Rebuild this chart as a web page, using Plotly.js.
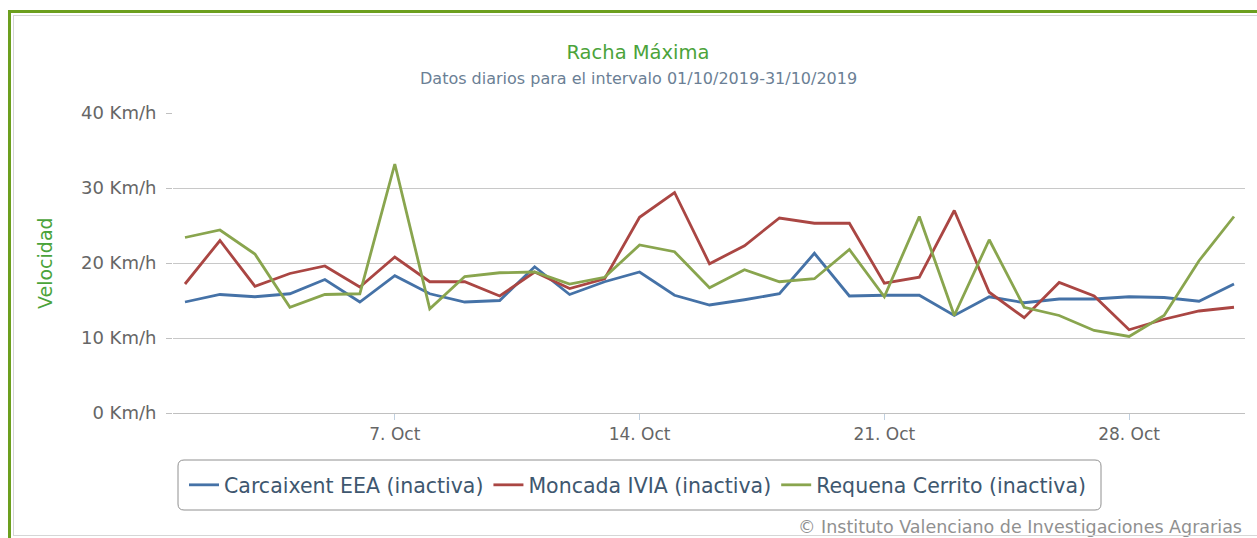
<!DOCTYPE html>
<html>
<head>
<meta charset="utf-8">
<script src="https://cdn.plot.ly/plotly-3.0.1.min.js"></script>
<style>
  html, body { margin:0; padding:0; background:#ffffff; overflow:hidden; }
  #wrap { position:relative; width:1257px; height:538px; }
  #chart { position:absolute; left:0; top:0; width:1257px; height:538px; }
  #frameOuter { position:absolute; left:8px; top:10px; width:1300px; height:600px;
    border-top:3px solid #6c9f1e; border-left:3px solid #6c9f1e; pointer-events:none; z-index:5; }
  #frameInner { position:absolute; left:13px; top:15px; width:1300px; height:519px;
    border:1px solid #d6d6d6; pointer-events:none; z-index:4; }
</style>
</head>
<body>
<div id="wrap">
  <div id="chart"></div>
  <div id="frameInner"></div>
  <div id="frameOuter"></div>
</div>
<script>
// ---------- data ----------
const dates = [
  '2019-10-01','2019-10-02','2019-10-03','2019-10-04','2019-10-05','2019-10-06','2019-10-07',
  '2019-10-08','2019-10-09','2019-10-10','2019-10-11','2019-10-12','2019-10-13','2019-10-14',
  '2019-10-15','2019-10-16','2019-10-17','2019-10-18','2019-10-19','2019-10-20','2019-10-21',
  '2019-10-22','2019-10-23','2019-10-24','2019-10-25','2019-10-26','2019-10-27','2019-10-28',
  '2019-10-29','2019-10-30','2019-10-31'
];
const seriesNames = ['Carcaixent EEA (inactiva)', 'Moncada IVIA (inactiva)', 'Requena Cerrito (inactiva)'];
const carcaixent = [14.8, 15.8, 15.5, 15.9, 17.8, 14.8, 18.3, 15.9, 14.8, 15.0, 19.5, 15.8, 17.5, 18.8, 15.7, 14.4,
                    15.1, 15.9, 21.3, 15.6, 15.7, 15.7, 13.0, 15.5, 14.7, 15.2, 15.2, 15.5, 15.4, 14.9, 17.2];
const moncada    = [17.2, 23.0, 16.9, 18.6, 19.6, 16.8, 20.8, 17.5, 17.5, 15.6, 18.8, 16.6, 17.9, 26.1, 29.4, 19.9,
                    22.3, 26.0, 25.3, 25.3, 17.3, 18.1, 27.0, 16.1, 12.7, 17.4, 15.6, 11.1, 12.5, 13.6, 14.1];
const requena    = [23.4, 24.4, 21.2, 14.1, 15.8, 15.9, 33.2, 13.9, 18.2, 18.7, 18.8, 17.2, 18.1, 22.4, 21.5, 16.7,
                    19.1, 17.5, 17.9, 21.8, 15.5, 26.2, 13.0, 23.1, 14.1, 13.0, 11.0, 10.2, 13.0, 20.3, 26.2];
const yTickVals = [0, 10, 20, 30, 40];
const yTickText = ['0 Km/h', '10 Km/h', '20 Km/h', '30 Km/h', '40 Km/h'];
const xTickVals = ['2019-10-07', '2019-10-14', '2019-10-21', '2019-10-28'];
const xTickText = ['7. Oct', '14. Oct', '21. Oct', '28. Oct'];
const titleText = 'Racha Máxima';
const subtitleText = 'Datos diarios para el intervalo 01/10/2019-31/10/2019';
const yTitleText = 'Velocidad';
const creditText = '© Instituto Valenciano de Investigaciones Agrarias';

// ---------- layout helpers ----------
const W = 1257, H = 538;
const PL = 173, PR = 1245, PT = 113, PB = 413;
const px2x = p => (p - PL) / (PR - PL);
const px2y = p => (PB - p) / (PB - PT);
const FONT = 'DejaVu Sans, Verdana, sans-serif';

const colors = ['#4572A7', '#AA4643', '#89A54E'];
const values = [carcaixent, moncada, requena];
const traces = values.map((v, i) => ({
  type: 'scatter', mode: 'lines', x: dates, y: v, name: seriesNames[i],
  line: { color: colors[i], width: 2.8 }, hoverinfo: 'skip'
}));

// rounded legend frame
const lx0 = px2x(178), lx1 = px2x(1101), ly0 = px2y(460), ly1 = px2y(510);
const rx = 6 / (PR - PL), ry = 6 / (PB - PT);
const legendPath =
  `M ${lx0 + rx},${ly0} L ${lx1 - rx},${ly0} Q ${lx1},${ly0} ${lx1},${ly0 - ry} ` +
  `L ${lx1},${ly1 + ry} Q ${lx1},${ly1} ${lx1 - rx},${ly1} L ${lx0 + rx},${ly1} ` +
  `Q ${lx0},${ly1} ${lx0},${ly1 + ry} L ${lx0},${ly0 - ry} Q ${lx0},${ly0} ${lx0 + rx},${ly0} Z`;

const layout = {
  width: W, height: H,
  margin: { l: PL, r: W - PR, t: PT, b: H - PB, pad: 0 },
  paper_bgcolor: '#ffffff', plot_bgcolor: '#ffffff',
  showlegend: true,
  title: {
    text: titleText, x: 638 / W, xref: 'container', xanchor: 'center',
    y: 1 - 52 / H, yref: 'container', yanchor: 'middle',
    font: { family: FONT, size: 19.5, color: '#4ba33a' }
  },
  xaxis: {
    type: 'date',
    range: ['2019-09-30 15:46', '2019-10-31 07:33'],
    tickmode: 'array', tickvals: xTickVals, ticktext: xTickText,
    ticks: 'outside', ticklen: 6, tickcolor: '#c0d0e0', tickwidth: 1,
    showgrid: false, zeroline: false,
    showline: true, linecolor: '#c0c0c0', linewidth: 1,
    tickfont: { family: FONT, size: 17, color: '#666666' },
    fixedrange: true
  },
  yaxis: {
    range: [0, 40],
    tickmode: 'array', tickvals: yTickVals, ticktext: yTickText,
    ticks: 'outside', ticklen: 6, tickcolor: '#c0c0c0', tickwidth: 1,
    ticklabelstandoff: 6,
    showgrid: true, gridcolor: '#c8c8c8', gridwidth: 1,
    zeroline: false, showline: false,
    tickfont: { family: FONT, size: 18, color: '#666666' },
    fixedrange: true
  },
  legend: {
    orientation: 'h', x: px2x(184), xanchor: 'left', y: px2y(465), yanchor: 'top',
    font: { family: FONT, size: 20.5, color: '#3E576F' },
    itemwidth: 30,
    bgcolor: 'rgba(0,0,0,0)', borderwidth: 0, traceorder: 'normal'
  },
  shapes: [{
    type: 'path', xref: 'paper', yref: 'paper', path: legendPath,
    line: { color: '#909090', width: 1 }, fillcolor: 'rgba(0,0,0,0)', layer: 'below'
  }],
  annotations: [
    { text: subtitleText, xref: 'paper', yref: 'paper', x: px2x(638), y: px2y(78),
      xanchor: 'center', yanchor: 'middle', showarrow: false,
      font: { family: FONT, size: 16, color: '#6b7f95' } },
    { text: yTitleText, xref: 'paper', yref: 'paper', x: px2x(45), y: px2y(263),
      xanchor: 'center', yanchor: 'middle', textangle: -90, showarrow: false,
      font: { family: FONT, size: 19, color: '#4ba33a' } },
    { text: creditText, xref: 'paper', yref: 'paper', x: px2x(1244), y: px2y(527),
      xanchor: 'right', yanchor: 'middle', showarrow: false,
      font: { family: FONT, size: 17.5, color: '#909090' } }
  ]
};

Plotly.newPlot('chart', traces, layout, { staticPlot: true, displayModeBar: false });
</script>
</body>
</html>
